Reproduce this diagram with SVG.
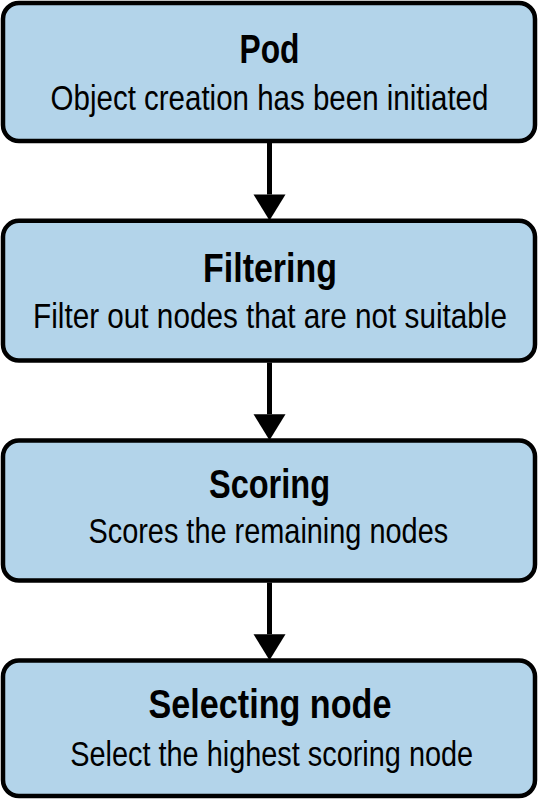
<svg xmlns="http://www.w3.org/2000/svg" width="539" height="802" viewBox="0 0 539 802">
  <style>
    .box { fill: #b3d4ea; stroke: #000; stroke-width: 4.5; }
    .title { font-family: "Liberation Sans", Arial, sans-serif; font-weight: bold; font-size: 40px; fill: #000; text-anchor: middle; }
    .sub { font-family: "Liberation Sans", Arial, sans-serif; font-size: 35px; fill: #000; text-anchor: middle; }
    .conn { stroke: #000; stroke-width: 5; fill: none; }
  </style>
  <defs>
    <marker id="arrow" markerUnits="userSpaceOnUse" markerWidth="27" markerHeight="33" viewBox="0 -16.5 27 33" refX="0" refY="0" orient="auto" overflow="visible">
      <path d="M0,-16 L26,0 L0,16 Z" fill="#000"/>
    </marker>
  </defs>
  <rect width="539" height="802" fill="#fff"/>

  <g id="node-pod">
    <rect class="box" x="3" y="3" width="532" height="138" rx="16" ry="16"/>
    <text class="title" transform="translate(269.5,63.3) scale(0.794,1)">Pod</text>
    <text class="sub" transform="translate(269.5,110) scale(0.843,1)">Object creation has been initiated</text>
  </g>

  <g id="node-filtering">
    <rect class="box" x="3" y="220.8" width="532" height="139.7" rx="16" ry="16"/>
    <text class="title" transform="translate(270,282.3) scale(0.849,1)">Filtering</text>
    <text class="sub" transform="translate(270,328.3) scale(0.849,1)">Filter out nodes that are not suitable</text>
  </g>

  <g id="node-scoring">
    <rect class="box" x="3" y="440.5" width="532" height="140" rx="16" ry="16"/>
    <text class="title" transform="translate(269.5,497.7) scale(0.813,1)">Scoring</text>
    <text class="sub" transform="translate(268.3,543.3) scale(0.826,1)">Scores the remaining nodes</text>
  </g>

  <g id="node-selecting">
    <rect class="box" x="3" y="660.5" width="532" height="135.5" rx="16" ry="16"/>
    <text class="title" transform="translate(270,717.7) scale(0.854,1)">Selecting node</text>
    <text class="sub" transform="translate(271.7,766) scale(0.825,1)">Select the highest scoring node</text>
  </g>

  <g id="connectors">
    <line class="conn" x1="269.5" y1="143" x2="269.5" y2="194.5" marker-end="url(#arrow)"/>
    <line class="conn" x1="269.5" y1="362.5" x2="269.5" y2="414.3" marker-end="url(#arrow)"/>
    <line class="conn" x1="269.5" y1="582.5" x2="269.5" y2="634.3" marker-end="url(#arrow)"/>
  </g>
</svg>
